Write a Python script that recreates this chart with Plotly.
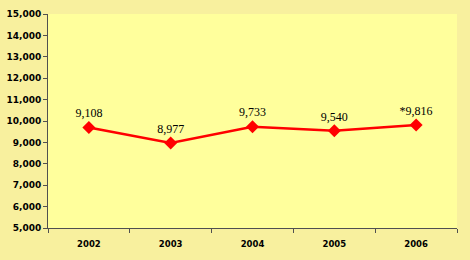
import plotly.graph_objects as go

years = ["2002", "2003", "2004", "2005", "2006"]
values = [9700, 8977, 9733, 9540, 9816]
labels = ["9,108", "8,977", "9,733", "9,540", "*9,816"]
y_ticks = list(range(5000, 15001, 1000))
y_tick_text = [f"{v:,}" for v in y_ticks]

fig = go.Figure()
fig.add_trace(go.Scatter(
    x=years, y=values, mode="lines+markers+text",
    text=labels, textposition="top center",
    textfont=dict(family="Liberation Serif", size=12, color="#000000"),
    line=dict(color="#FF0000", width=2.5),
    marker=dict(symbol="diamond", size=10, color="#FF0000"),
    cliponaxis=False, showlegend=False,
))

fig.update_layout(
    width=470, height=260,
    margin=dict(l=48, r=13, t=14, b=32, autoexpand=False),
    paper_bgcolor="#F8F09E",
    plot_bgcolor="#FFFF9C",
    xaxis=dict(
        type="category", range=[-0.5, len(years) - 0.5],
        showgrid=False, zeroline=False,
        showline=True, linecolor="#505050", linewidth=1,
        ticks="outside", tickson="boundaries", ticklen=4, tickcolor="#505050",
        tickfont=dict(family="DejaVu Sans", size=8.5, color="#000000", weight="bold"),
        ticklabelstandoff=8, automargin=False,
    ),
    yaxis=dict(
        range=[5000, 15000], tickvals=y_ticks, ticktext=y_tick_text,
        showgrid=False, zeroline=False,
        showline=True, linecolor="#505050", linewidth=1,
        ticks="outside", ticklen=4, tickcolor="#505050",
        tickfont=dict(family="DejaVu Sans", size=9, color="#000000", weight="bold"),
        automargin=False,
    ),
)

fig.write_html("out.html")
